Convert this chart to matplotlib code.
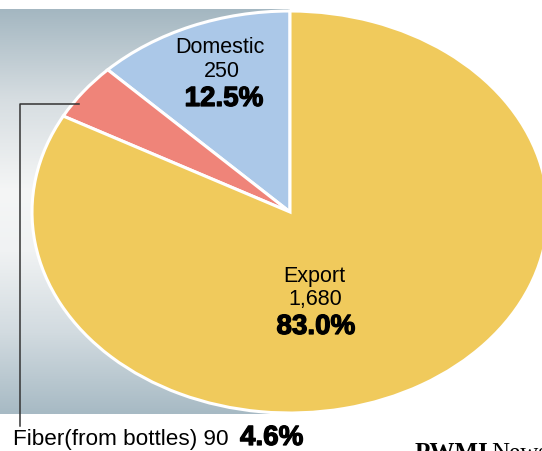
import numpy as np
import matplotlib
matplotlib.use("Agg")
import matplotlib.pyplot as plt
import matplotlib.patheffects as pe
from matplotlib.colors import LinearSegmentedColormap

# slice data (drawn counter-clockwise from 12 o'clock)
labels = ["Domestic", "Fiber(from bottles)", "Export"]
amounts = [250, 90, 1680]
shares = [12.5, 4.6, 83.0]
colors = ["#abc8e8", "#ef8479", "#f0ca5c"]

W, H = 542, 452
fig = plt.figure(figsize=(W / 100, H / 100), dpi=100)
fig.patch.set_facecolor("white")

# background panel with vertical gradient
bg = fig.add_axes([0, 0, 1, 1])
bg.set_xlim(0, W)
bg.set_ylim(H, 0)
bg.axis("off")
grad = LinearSegmentedColormap.from_list(
    "bg", [(0.0, "#a4b7c1"), (0.22, "#d6dde1"), (0.45, "#f5f6f6"),
           (0.6, "#f0f2f3"), (0.8, "#d2dbe0"), (1.0, "#a7bac4")])
g = np.linspace(0, 1, 256).reshape(-1, 1)
bg.imshow(g, cmap=grad, aspect="auto", extent=[0, 290, 415, 10], zorder=0)

# pie, stretched into an ellipse (clipped on the right)
ax = fig.add_axes([32 / W, 38 / H, 516 / W, 402 / H])
ax.pie(shares, colors=colors, startangle=90, counterclock=True,
       radius=1, wedgeprops=dict(edgecolor="white", linewidth=2.2))
ax.set_aspect("auto")
ax.set_xlim(-1.0, 1.0)
ax.set_ylim(-1.0, 1.0)
ax.axis("off")

# overlay for labels
top = fig.add_axes([0, 0, 1, 1])
top.set_xlim(0, W)
top.set_ylim(H, 0)
top.axis("off")
top.patch.set_alpha(0)

sans = "Liberation Sans"
heavy = dict(family=sans, weight="bold", fontsize=20, color="black",
             path_effects=[pe.withStroke(linewidth=0.9, foreground="black")])

top.text(220, 53, labels[0], family=sans, fontsize=15.5, ha="center", va="baseline")
top.text(222, 77, f"{amounts[0]:,}", family=sans, fontsize=15.5, ha="center", va="baseline")
top.text(224, 107, f"{shares[0]:.1f}%", ha="center", va="baseline", **heavy)

top.text(314, 282, labels[2], family=sans, fontsize=15.5, ha="center", va="baseline")
top.text(315, 305, f"{amounts[2]:,}", family=sans, fontsize=15.5, ha="center", va="baseline")
top.text(316, 335, f"{shares[2]:.1f}%", ha="center", va="baseline", **heavy)

top.text(13, 445, f"{labels[1]} {amounts[1]}", family=sans, fontsize=16.2, ha="left", va="baseline")
top.text(240, 446, f"{shares[1]:.1f}%", ha="left", va="baseline", **heavy)

# leader line for the small slice
top.plot([79, 20, 20], [105, 105, 427], color="#333333", lw=1.1)

# source mark, cut off at the bottom edge as in the original
top.text(415, 460, "PWMI", family="Liberation Serif", weight="bold", fontsize=18,
         ha="left", va="baseline")
top.text(491, 460, "News", family="Liberation Serif", fontsize=18,
         ha="left", va="baseline")

fig.savefig("out.png", dpi=100)
